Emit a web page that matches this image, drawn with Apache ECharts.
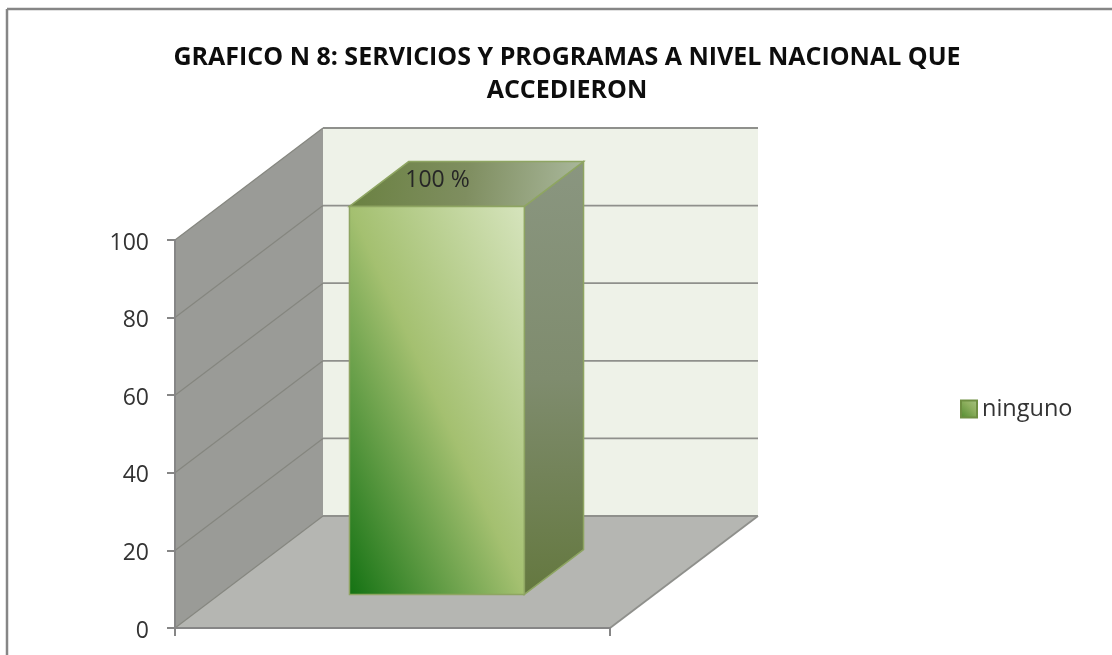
<!DOCTYPE html>
<html><head><meta charset="utf-8">
<style>html,body{margin:0;background:#fff}#c{width:1112px;height:655px}</style>
<script src="https://cdn.jsdelivr.net/npm/echarts@6/dist/echarts.min.js"></script>
</head><body><div id="c"></div>
<script>
const titleText = 'GRAFICO N 8: SERVICIOS Y PROGRAMAS A NIVEL NACIONAL QUE\nACCEDIERON';
const categories = ['ninguno'];
const seriesName = 'ninguno';
const values = [100];
const yTicks = [0, 20, 40, 60, 80, 100];

const depth = [148, -112];         // wall depth vector, px
const barStart = 0.30, barEnd = 0.70, barWidthRatio = 0.402;
const LG = (x0,y0,x1,y1,stops,g) => new echarts.graphic.LinearGradient(x0,y0,x1,y1,stops.map(c=>({offset:c[0],color:c[1]})),g);
const shift = (p,t) => [p[0]+depth[0]*t, p[1]+depth[1]*t];
const poly = (points, style, z2) => ({type:'polygon', shape:{points}, style, z2, silent:true});
const line = (a,b,stroke,w) => ({type:'line', shape:{x1:a[0],y1:a[1],x2:b[0],y2:b[1]}, style:{stroke,lineWidth:w||1.5}, silent:true});

// gradient whose iso-lines follow the top-left to bottom-right diagonal of a rectangle
function diagGradient(bl, tr, stops) {
  const w = tr[0]-bl[0], h = bl[1]-tr[1];
  const len = Math.hypot(w,h), dx = h/len, dy = -w/len;
  const cx = (bl[0]+tr[0])/2, cy = (bl[1]+tr[1])/2;
  const half = (w/2)*dx + (-h/2)*dy;
  return LG(cx-half*dx, cy-half*dy, cx+half*dx, cy+half*dy, stops, true);
}

function renderItem(params, api) {
  const cs = params.coordSys;
  const x0 = cs.x, x1 = cs.x + cs.width;
  const y = v => api.coord([0, v])[1];
  const kids = [];
  const fl = [x0,y(0)], fr = [x1,y(0)];
  // floor and walls
  kids.push(poly([fl, shift(fl,1), shift(fr,1), fr], {fill:'#b5b6b2'}));
  kids.push(poly([fl,[x0,y(100)],shift([x0,y(100)],1),shift(fl,1)], {fill:'#9a9b97'}));
  kids.push(poly([shift([x0,y(100)],1),shift([x1,y(100)],1),shift(fr,1),shift(fl,1)], {fill:'#eef2e8'}));
  // gridlines on both walls
  yTicks.forEach(t => {
    const a=[x0,y(t)], b=shift(a,1), c=shift([x1,y(t)],1);
    kids.push(line(a,b,'#85867f',1.2));
    kids.push(line(b,c,'#8f908c',1.8));
  });
  kids.push(line(fr, shift(fr,1), '#8f908c', 1.8));
  // bar
  const v = api.value(1);
  const cx = api.coord([api.value(0), 0])[0];
  const w = api.size([1,0])[0] * barWidthRatio;
  const p = [cx-w/2, y(0)], q = [cx+w/2, y(0)];
  const pT = [cx-w/2, y(v)], qT = [cx+w/2, y(v)];
  const f1 = P => shift(P,barStart), f2 = P => shift(P,barEnd);
  const edge = '#8ea562';
  kids.push(poly([f1(q),f2(q),f2(qT),f1(qT)], {
    fill:LG(0.5,0,0.5,1,[[0,'#8a9680'],[0.5,'#7f8c6e'],[1,'#64783f']]), stroke:edge, lineWidth:1.5}));
  kids.push(poly([f1(pT),f2(pT),f2(qT),f1(qT)], {
    fill:LG(0,0.3,1,0.7,[[0,'#6a8141'],[0.5,'#7f8e60'],[1,'#aab89c']]), stroke:edge, lineWidth:1.5}));
  kids.push(poly([f1(p),f1(q),f1(qT),f1(pT)], {
    fill:diagGradient(f1(p), f1(qT), [[0,'#147213'],[0.5,'#a4c070'],[1,'#d6e4bd']]), stroke:edge, lineWidth:1.5}));
  // value label on the top face
  const lp = shift([cx, y(v)], (barStart+barEnd)/2);
  kids.push({type:'text', silent:true, style:{x:lp[0]-29, y:lp[1]-4, text:v+' %', fill:'#262626',
    font:'23px "Open Sans"', align:'center', verticalAlign:'middle'}});
  return {type:'group', children:kids};
}

const chart = echarts.init(document.getElementById('c'), null, {renderer:'canvas'});
chart.setOption({
  animation:false,
  backgroundColor:'#fff',
  title:{text:titleText, left:562, textAlign:'center', top:36, itemGap:0,
    textStyle:{fontFamily:'Open Sans', fontWeight:'bold', fontSize:25, lineHeight:33, color:'#0d0d0d'}},
  graphic:[
    {type:'line', shape:{x1:7,y1:9,x2:1112,y2:9}, style:{stroke:'#868686',lineWidth:2.5}, silent:true},
    {type:'line', shape:{x1:7,y1:9,x2:7,y2:655}, style:{stroke:'#868686',lineWidth:2.5}, silent:true}
  ],
  legend:{data:[seriesName], left:955, top:392, itemWidth:16, itemHeight:17, itemGap:0, icon:'rect',
    textStyle:{fontFamily:'Open Sans', fontSize:23.5, color:'#333', padding:[4,0,0,0]}},
  grid:{left:175, top:240, width:435, height:388},
  xAxis:{type:'category', data:categories, z:10, boundaryGap:true,
    axisLine:{lineStyle:{color:'#868686',width:2}},
    axisTick:{show:true,length:8,lineStyle:{color:'#868686',width:2}},
    axisLabel:{show:false}},
  yAxis:{type:'value', min:0, max:100, interval:20, z:10,
    axisLine:{show:true,lineStyle:{color:'#868686',width:2}},
    axisTick:{show:true,length:8,lineStyle:{color:'#868686',width:2}},
    splitLine:{show:false},
    axisLabel:{margin:26,fontFamily:'Open Sans',fontSize:23,color:'#333',
      formatter:'{a|{value}}', rich:{a:{fontFamily:'Open Sans',fontSize:23,color:'#333',padding:[6,0,0,0]}}}},
  series:[{type:'custom', name:seriesName, renderItem, clip:false,
    itemStyle:{color:LG(0,1,1,0,[[0,'#4f8a2c'],[0.6,'#8fb060'],[1,'#a8c484']]),borderColor:'#6f8f42',borderWidth:1},
    encode:{x:0,y:1},
    data:categories.map((c,i)=>[i,values[i]])}]
});
</script></body></html>
